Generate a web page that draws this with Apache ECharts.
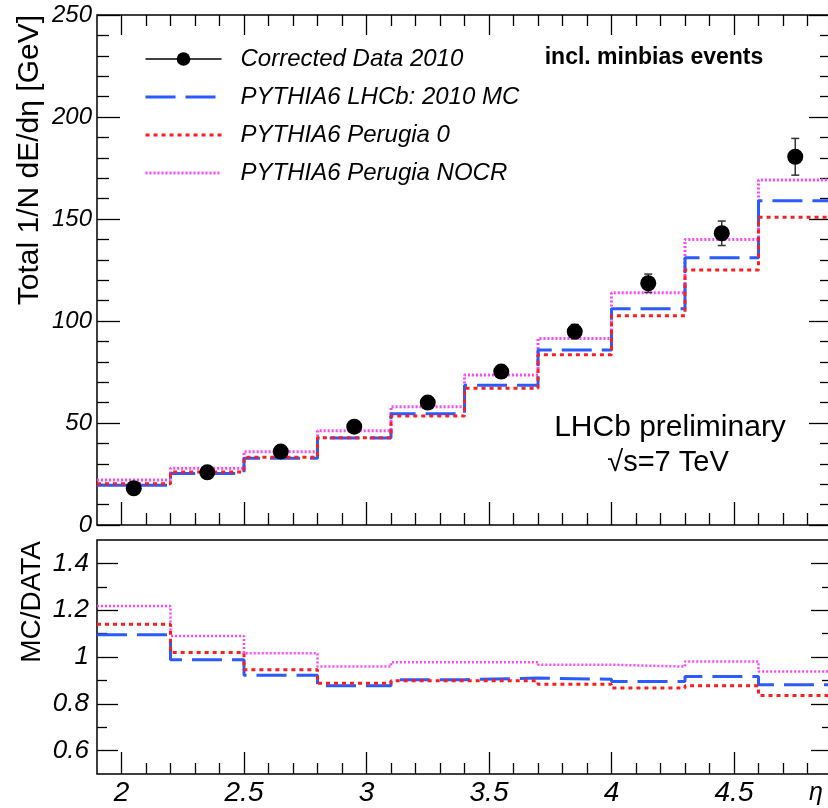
<!DOCTYPE html>
<html>
<head>
<meta charset="utf-8">
<script src="https://cdn.jsdelivr.net/npm/echarts@6/dist/echarts.min.js"></script>
<style>
  html, body { margin: 0; padding: 0; overflow: hidden; background: #fff; width: 828px; height: 808px; }
  #chart { width: 832px; height: 808px; }
</style>
</head>
<body>
<div id="chart"></div>
<script>
// Pseudorapidity bin edges (10 bins, width 0.3)
const etaEdges = [1.9, 2.2, 2.5, 2.8, 3.1, 3.4, 3.7, 4.0, 4.3, 4.6, 4.9];

// Total energy flow per event, 1/N dE/dη [GeV]
const dataFlow    = [18.0, 25.8, 36.0, 48.2, 60.0, 75.2, 94.8, 118.5, 143.0, 180.5];
const dataErr     = [1.0, 1.2, 1.5, 2.0, 2.5, 3.0, 3.5, 4.5, 6.0, 9.0];
const mcLHCb      = [19.5, 25.3, 32.7, 42.7, 54.5, 68.5, 85.8, 106.0, 131.0, 159.0];
const mcPerugia0  = [20.2, 26.0, 33.2, 42.8, 53.4, 67.0, 83.5, 102.6, 125.0, 150.8];
const mcNOCR      = [22.0, 27.8, 35.9, 46.2, 58.0, 73.5, 91.4, 113.8, 140.0, 169.1];

// MC / DATA ratios
const ratioLHCb     = [1.095, 0.988, 0.922, 0.877, 0.903, 0.910, 0.905, 0.895, 0.917, 0.881];
const ratioPerugia0 = [1.140, 1.019, 0.945, 0.888, 0.898, 0.898, 0.884, 0.867, 0.877, 0.836];
const ratioNOCR     = [1.218, 1.090, 1.016, 0.959, 0.978, 0.978, 0.967, 0.959, 0.981, 0.938];

// Series names
const names = ['Corrected Data 2010', 'PYTHIA6 LHCb: 2010 MC', 'PYTHIA6 Perugia 0', 'PYTHIA6 Perugia NOCR'];

// Tick positions
const etaMajorTicks   = [2, 2.5, 3, 3.5, 4, 4.5];
const etaMinorTicks   = [2.1, 2.2, 2.3, 2.4, 2.6, 2.7, 2.8, 2.9, 3.1, 3.2, 3.3, 3.4,
                         3.6, 3.7, 3.8, 3.9, 4.1, 4.2, 4.3, 4.4, 4.6, 4.7, 4.8];
const ratioMajorTicks = [0.6, 0.8, 1, 1.2, 1.4];
const ratioMinorTicks = [0.7, 0.9, 1.1, 1.3];

const FONT = '"Liberation Sans", Arial, Helvetica, sans-serif';
const BLUE = '#2a5bff', RED = '#ff1c1c', MAGENTA = '#ff44ff';

// histogram outline: one point per lower bin edge, plus the closing edge
function stepPoints(values) {
  const pts = values.map((v, i) => [etaEdges[i], v]);
  pts.push([etaEdges[etaEdges.length - 1], values[values.length - 1]]);
  return pts;
}
const etaCenters = etaEdges.slice(0, -1).map((e, i) => (e + etaEdges[i + 1]) / 2);

const tickStyle = { color: '#000', width: 1.3 };

function etaAxis(gridIndex, position, ticks, len, labels) {
  return {
    type: 'value', gridIndex, position, min: 1.9, max: 4.9,
    axisLine: { show: false }, splitLine: { show: false },
    axisTick: { show: true, inside: true, length: len, customValues: ticks, lineStyle: tickStyle },
    axisLabel: labels ? {
      customValues: ticks, margin: 5, color: '#000', fontSize: 28, fontStyle: 'italic',
      fontFamily: FONT, verticalAlign: 'top'
    } : { show: false }
  };
}
function ratioAxis(position, ticks, len, labels) {
  return {
    type: 'value', gridIndex: 1, position, min: 0.5, max: 1.5,
    axisLine: { show: false }, splitLine: { show: false },
    axisTick: { show: true, inside: true, length: len, customValues: ticks, lineStyle: tickStyle },
    axisLabel: labels ? {
      customValues: ticks, margin: 8, color: '#000', fontSize: 26, fontStyle: 'italic', fontFamily: FONT
    } : { show: false }
  };
}
function flowAxis(position, labels) {
  return {
    type: 'value', gridIndex: 0, position, min: 0, max: 250, interval: 50,
    axisLine: { show: false }, splitLine: { show: false },
    axisTick: { show: true, inside: true, length: 23, lineStyle: tickStyle },
    minorTick: { show: true, splitNumber: 5, length: 12, lineStyle: tickStyle },
    axisLabel: labels ? {
      margin: 5, color: '#000', fontSize: 24, fontStyle: 'italic', fontFamily: FONT
    } : { show: false }
  };
}

function stepSeries(name, values, color, dash, width, xi, yi, z) {
  return {
    name, type: 'line', step: 'end', xAxisIndex: xi, yAxisIndex: yi, z,
    data: stepPoints(values), showSymbol: false, symbol: 'none', silent: true,
    lineStyle: { color, width, type: dash }, itemStyle: { color }
  };
}

const chart = echarts.init(document.getElementById('chart'), null, { renderer: 'canvas' });

chart.setOption({
  animation: false,
  backgroundColor: '#fff',
  grid: [
    { left: 97, top: 15, width: 735, height: 510, show: true, borderColor: '#000', borderWidth: 1.5, backgroundColor: 'transparent' },
    { left: 97, top: 540, width: 735, height: 234, show: true, borderColor: '#000', borderWidth: 1.5, backgroundColor: 'transparent' }
  ],
  xAxis: [
    etaAxis(0, 'bottom', etaMajorTicks, 23, false),
    etaAxis(0, 'bottom', etaMinorTicks, 12, false),
    etaAxis(0, 'top', etaMajorTicks, 20, false),
    etaAxis(0, 'top', etaMinorTicks, 11, false),
    etaAxis(1, 'bottom', etaMajorTicks, 22, true),
    etaAxis(1, 'bottom', etaMinorTicks, 11, false)
  ],
  yAxis: [
    flowAxis('left', true),
    flowAxis('right', false),
    ratioAxis('left', ratioMajorTicks, 21, true),
    ratioAxis('left', ratioMinorTicks, 10, false),
    ratioAxis('right', ratioMajorTicks, 21, false),
    ratioAxis('right', ratioMinorTicks, 10, false)
  ],
  legend: {
    orient: 'vertical', left: 144, top: 47, padding: 0, itemGap: 14,
    itemWidth: 76, itemHeight: 17, selectedMode: false,
    textStyle: { fontSize: 24, fontStyle: 'italic', fontFamily: FONT, color: '#000', padding: [0, 0, 0, 14] },
    data: [
      { name: names[0], itemStyle: { color: '#000', opacity: 1 },
        lineStyle: { color: '#000', width: 1.5, type: 'solid', opacity: 1 } },
      { name: names[1], itemStyle: { opacity: 0 }, lineStyle: { color: BLUE, width: 3, type: [30, 10], opacity: 1 } },
      { name: names[2], itemStyle: { opacity: 0 }, lineStyle: { color: RED, width: 3, type: [4, 4], opacity: 1 } },
      { name: names[3], itemStyle: { opacity: 0 }, lineStyle: { color: MAGENTA, width: 3, type: [2, 2], opacity: 1 } }
    ]
  },
  series: [
    // upper panel: energy flow
    stepSeries(names[3], mcNOCR, MAGENTA, [2, 2], 3, 0, 0, 2),
    stepSeries(names[1], mcLHCb, BLUE, [30, 10], 3, 0, 0, 3),
    stepSeries(names[2], mcPerugia0, RED, [4, 4], 3, 0, 0, 4),
    {
      name: 'errors', type: 'custom', xAxisIndex: 0, yAxisIndex: 0, z: 5, silent: true,
      data: etaCenters.map((c, i) => [c, dataFlow[i] - dataErr[i], dataFlow[i] + dataErr[i]]),
      renderItem(params, api) {
        const lo = api.coord([api.value(0), api.value(1)]);
        const hi = api.coord([api.value(0), api.value(2)]);
        const w = 4, st = { stroke: '#333', lineWidth: 1.5 };
        return {
          type: 'group', children: [
            { type: 'line', shape: { x1: lo[0], y1: lo[1], x2: hi[0], y2: hi[1] }, style: st },
            { type: 'line', shape: { x1: lo[0] - w, y1: lo[1], x2: lo[0] + w, y2: lo[1] }, style: st },
            { type: 'line', shape: { x1: hi[0] - w, y1: hi[1], x2: hi[0] + w, y2: hi[1] }, style: st }
          ]
        };
      }
    },
    {
      name: names[0], type: 'line', xAxisIndex: 0, yAxisIndex: 0, z: 6, silent: true,
      data: etaCenters.map((c, i) => [c, dataFlow[i]]),
      symbol: 'circle', symbolSize: 16, showSymbol: true, showAllSymbol: true,
      lineStyle: { width: 0, opacity: 0 }, itemStyle: { color: '#000' }
    },
    // lower panel: MC / DATA
    stepSeries(names[3], ratioNOCR, MAGENTA, [2, 2], 2.5, 4, 2, 2),
    stepSeries(names[1], ratioLHCb, BLUE, [30, 10], 3, 4, 2, 3),
    stepSeries(names[2], ratioPerugia0, RED, [4, 4], 3, 4, 2, 4)
  ],
  graphic: [
    { type: 'text', x: 30, y: 15, rotation: Math.PI / 2,
      style: { text: 'Total 1/N dE/dη [GeV]', fontSize: 30, fontFamily: FONT, fill: '#000', align: 'right', verticalAlign: 'middle' } },
    { type: 'text', x: 32, y: 541, rotation: Math.PI / 2,
      style: { text: 'MC/DATA', fontSize: 28, fontFamily: FONT, fill: '#000', align: 'right', verticalAlign: 'middle' } },
    { type: 'text', x: 654, y: 58,
      style: { text: 'incl. minbias events', fontSize: 23, fontWeight: 'bold', fontFamily: FONT, fill: '#000', align: 'center', verticalAlign: 'middle' } },
    { type: 'text', x: 670, y: 428,
      style: { text: 'LHCb preliminary', fontSize: 30, fontFamily: FONT, fill: '#000', align: 'center', verticalAlign: 'middle' } },
    { type: 'text', x: 668, y: 463,
      style: { text: '√s=7 TeV', fontSize: 29, fontFamily: FONT, fill: '#000', align: 'center', verticalAlign: 'middle' } },
    { type: 'text', x: 809, y: 793,
      style: { text: 'η', fontSize: 25, fontStyle: 'italic', fontFamily: FONT, fill: '#000', align: 'left', verticalAlign: 'middle' } }
  ]
});
</script>
</body>
</html>
